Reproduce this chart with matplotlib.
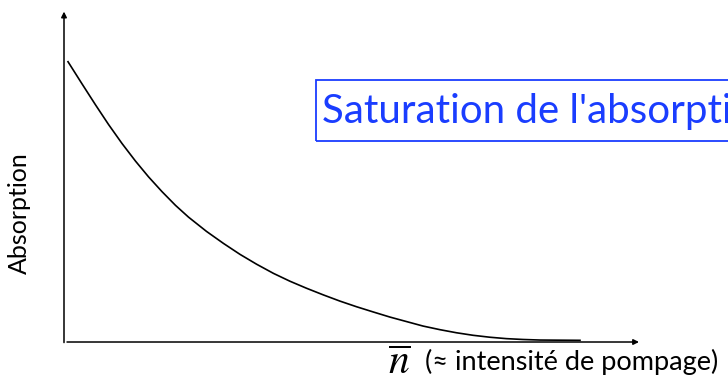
import numpy as np
import matplotlib.pyplot as plt
from matplotlib.patches import Rectangle

# curve (arbitrary units)
n_bar = [0.08, 0.36, 0.63, 0.89, 1.16, 1.43, 1.69, 1.96, 2.23, 2.49,
         2.85, 3.19, 3.52, 3.85, 4.19, 4.52, 4.85, 5.19, 5.52, 5.85,
         6.19, 6.52, 6.85, 7.18, 7.52, 7.85, 8.18, 8.52, 8.85, 9.18,
         9.52, 10.32]
absorption = [10.01, 9.22, 8.47, 7.77, 7.09, 6.46, 5.90, 5.37, 4.88, 4.46,
              3.95, 3.52, 3.13, 2.78, 2.45, 2.17, 1.92, 1.68, 1.46, 1.26,
              1.07, 0.89, 0.73, 0.57, 0.44, 0.33, 0.24, 0.17, 0.12, 0.09,
              0.07, 0.06]

title = "Saturation de l'absorption"
ylabel = 'Absorption'
xlabel = '(≈ intensité de pompage)'
blue = '#1a3dff'

plt.rcParams['font.family'] = ['Lato', 'DejaVu Sans']
plt.rcParams['mathtext.fontset'] = 'stix'

fig = plt.figure(figsize=(7.28, 3.83), dpi=100)
ax = fig.add_axes([0, 0, 1, 1])
ax.set_xlim(-1.28, 13.28)
ax.set_ylim(-1.464, 12.214)
ax.axis('off')

# axes with arrows
ax.annotate('', xy=(0, 11.8), xytext=(0, -0.02),
            arrowprops=dict(arrowstyle='-|>', color='black', lw=1.1,
                            mutation_scale=8, shrinkA=0, shrinkB=0))
ax.annotate('', xy=(11.5, 0), xytext=(0.06, 0),
            arrowprops=dict(arrowstyle='-|>', color='black', lw=1.1,
                            mutation_scale=8, shrinkA=0, shrinkB=0))

ax.plot(n_bar, absorption, color='black', lw=1.2, solid_joinstyle='round')

# title box (runs off the right edge)
ax.add_patch(Rectangle((5.04, 7.18), 10, 2.18, fill=False,
                       edgecolor=blue, lw=1.3, clip_on=True))
ax.text(5.16, 8.22, title, color=blue, fontsize=29, va='center', ha='left')

ax.text(-0.9, 4.6, ylabel, rotation=90, fontsize=18, va='center', ha='center')
ax.text(6.7, -0.72, r'$\overline{n}$', fontsize=30, va='center', ha='center')
ax.text(7.22, -0.72, xlabel, fontsize=19.5, va='center', ha='left')

plt.savefig('out.png', dpi=100)
